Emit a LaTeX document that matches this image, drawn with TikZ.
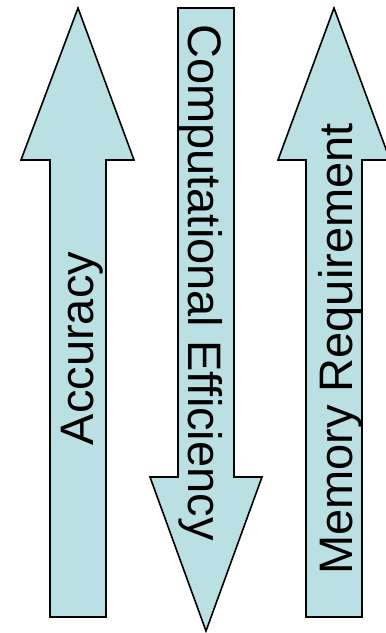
\documentclass[tikz,border=0pt]{standalone}
\usepackage{fontspec}
\setmainfont{Liberation Sans}
\definecolor{arrowfill}{HTML}{BBE0E3}
\tikzset{
  bigarrow/.style={draw=black, line width=1.6pt, fill=arrowfill, line join=miter},
  lbl/.style={inner sep=0pt, anchor=base, font=\fontsize{47}{56}\selectfont}
}
\begin{document}
\begin{tikzpicture}[x=1pt,y=-1pt]
\useasboundingbox (0,0) rectangle (386,633);
\clip (0,0) rectangle (386,633);
% Accuracy arrow (up)
\draw[bigarrow] (78,8) -- (134,160) -- (106,160) -- (106,617) -- (50,617) -- (50,160) -- (21,160) -- cycle;
% Computational Efficiency arrow (down)
\draw[bigarrow] (178,8) -- (234,8) -- (234,477) -- (262,477) -- (206,631) -- (150,477) -- (178,477) -- cycle;
% Memory Requirement arrow (up)
\draw[bigarrow] (334,8) -- (390,160) -- (362,160) -- (362,617) -- (306,617) -- (306,160) -- (278,160) -- cycle;
\node[lbl, rotate=90] (acc) at (93.5,348.5) {Accuracy};
\node[lbl, rotate=-90] (comp) at (188,282.5) {Computational Efficiency};
\node[lbl, rotate=90] (mem) at (352,349) {Memory Requirement};
\end{tikzpicture}
\end{document}
